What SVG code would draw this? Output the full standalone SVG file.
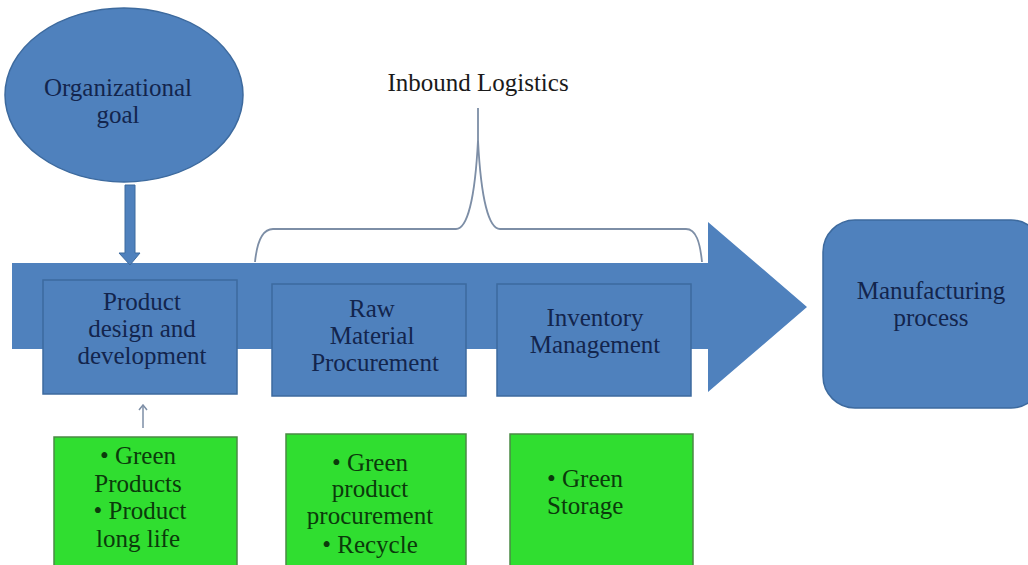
<svg xmlns="http://www.w3.org/2000/svg" width="1028" height="565" viewBox="0 0 1028 565">
  <style>
    .blue { fill: #4f81bd; stroke: #3d6a9e; stroke-width: 1.5; }
    .green { fill: #30de30; stroke: #4a8a44; stroke-width: 1.5; }
    text { font-family: "Times New Roman", Tinos, "Liberation Serif", "Noto Serif", "DejaVu Serif", Times, serif; font-size: 25px; text-anchor: middle; }
    .navy { fill: #13254d; }
    .dark { fill: #0b3a0b; }
    .left { text-anchor: start; }
    .brace { fill: none; stroke: #7d8ea6; stroke-width: 1.8; }
  </style>
  <defs>
    <marker id="tip" viewBox="0 0 10 10" refX="9" refY="5" markerWidth="10" markerHeight="10" markerUnits="userSpaceOnUse" orient="auto">
      <path d="M4,1 L9,5 L4,9" fill="none" stroke="#7d8ea6" stroke-width="1.5"/>
    </marker>
  </defs>
  <rect width="1028" height="565" fill="#ffffff"/>

  <!-- main flow arrow -->
  <g id="flow-arrow">
    <path d="M12,263 L708,263 L708,222 L807,307 L708,392 L708,349 L12,349 Z" fill="#4f81bd"/>
  </g>

  <g id="connectors">
    <!-- goal feeds into the flow -->
    <path d="M125,185 L135,185 L135,253 L140,253 L130,265 L119,253 L125,253 Z" fill="#4f81bd" stroke="#3d6a9e" stroke-width="1"/>
    <!-- green practices feed product design -->
    <line x1="143" y1="428" x2="143" y2="405" stroke="#7d8ea6" stroke-width="1.5" marker-end="url(#tip)"/>
    <!-- brace over the inbound logistics stages -->
    <path class="brace" d="M255,262 C257,242 262,229 273,229 L456,229 C467,229 475,200 478,140 L478,108 M478,140 C481,200 489,229 500,229 L686,229 C696,229 700,242 702,262"/>
  </g>

  <g id="organizational-goal">
    <ellipse cx="124" cy="95" rx="119" ry="87" class="blue"/>
    <text class="navy" x="118" y="96">Organizational</text>
    <text class="navy" x="118" y="123">goal</text>
  </g>

  <g id="inbound-logistics">
    <text x="478" y="91" fill="#1a1a1a">Inbound Logistics</text>
  </g>

  <g id="product-design">
    <rect x="43" y="280" width="194" height="114" class="blue"/>
    <text class="navy" x="142" y="310">Product</text>
    <text class="navy" x="142" y="337">design and</text>
    <text class="navy" x="142" y="364">development</text>
  </g>

  <g id="raw-material">
    <rect x="272" y="284" width="194" height="112" class="blue"/>
    <text class="navy" x="372" y="317">Raw</text>
    <text class="navy" x="372" y="344">Material</text>
    <text class="navy" x="375" y="371">Procurement</text>
  </g>

  <g id="inventory">
    <rect x="497" y="284" width="194" height="112" class="blue"/>
    <text class="navy" x="595" y="326">Inventory</text>
    <text class="navy" x="595" y="353">Management</text>
  </g>

  <g id="manufacturing">
    <rect x="823" y="220" width="220" height="188" rx="32" ry="32" class="blue"/>
    <text class="navy" x="931" y="299">Manufacturing</text>
    <text class="navy" x="931" y="326">process</text>
  </g>

  <g id="green-design">
    <rect x="54" y="437" width="183" height="140" class="green"/>
    <text class="dark" x="138" y="464">• Green</text>
    <text class="dark" x="138" y="492">Products</text>
    <text class="dark" x="140" y="519">• Product</text>
    <text class="dark" x="138" y="547">long life</text>
  </g>

  <g id="green-procurement">
    <rect x="286" y="434" width="180" height="140" class="green"/>
    <text class="dark" x="370" y="471">• Green</text>
    <text class="dark" x="370" y="497">product</text>
    <text class="dark" x="370" y="524">procurement</text>
    <text class="dark" x="370" y="553">• Recycle</text>
  </g>

  <g id="green-storage">
    <rect x="510" y="434" width="183" height="140" class="green"/>
    <text class="dark left" x="547" y="487">• Green</text>
    <text class="dark left" x="547" y="514">Storage</text>
  </g>
</svg>
